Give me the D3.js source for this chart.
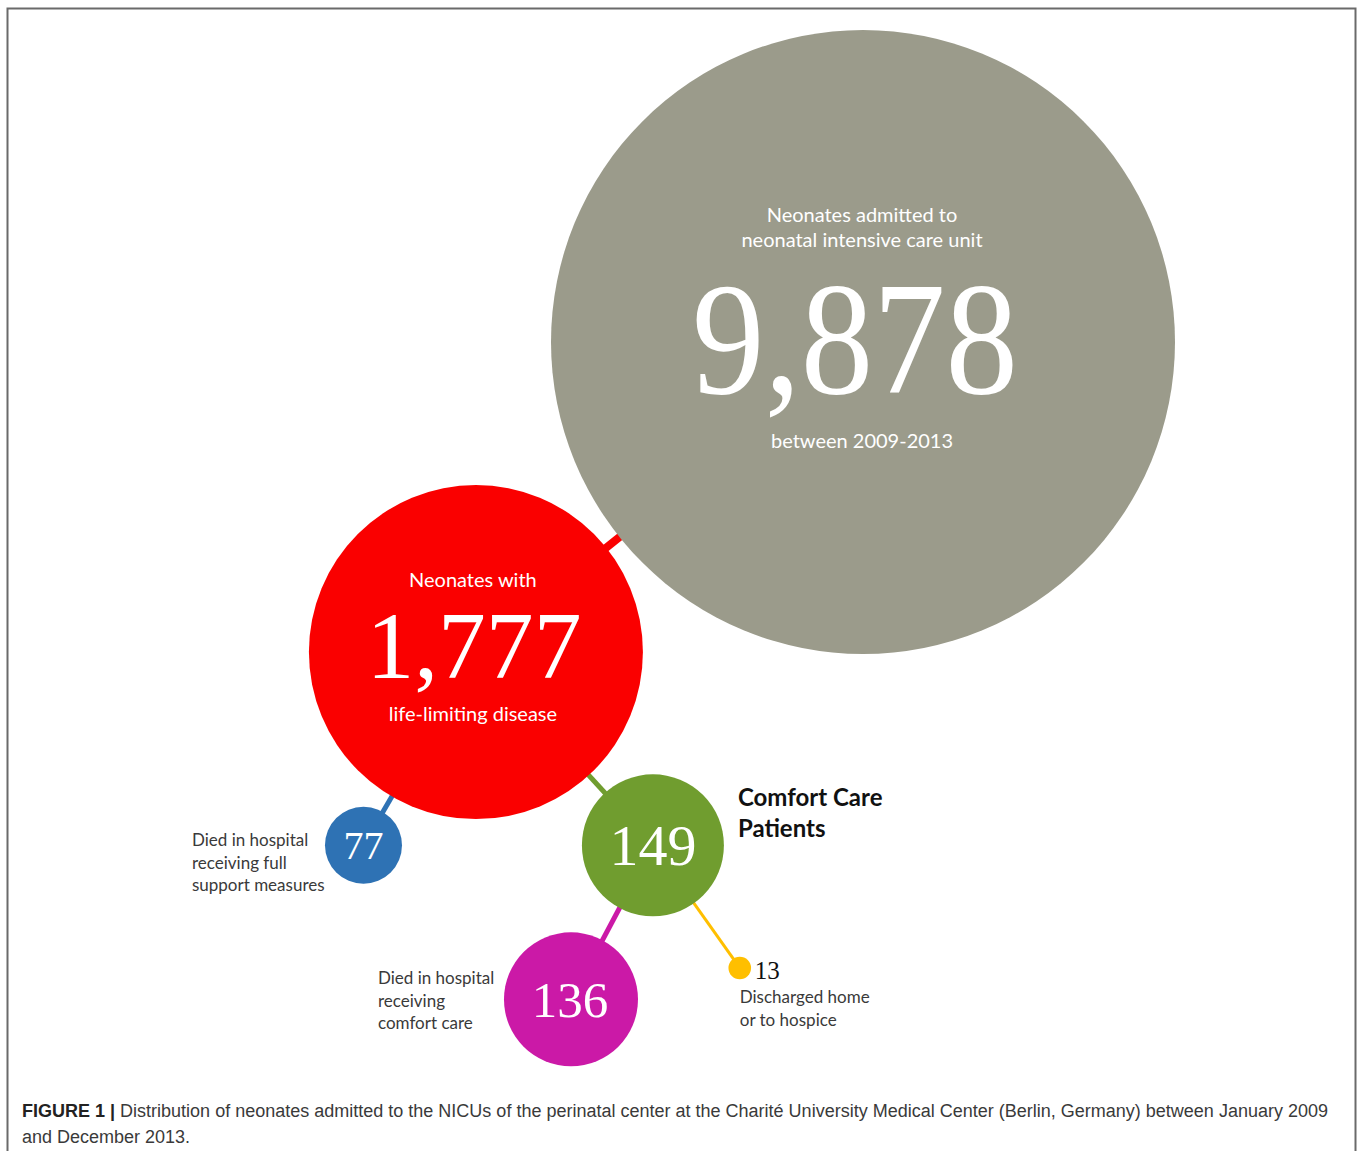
<!DOCTYPE html>
<html>
<head>
<meta charset="utf-8">
<script src="https://cdn.jsdelivr.net/npm/d3@7"></script>
<style>
  html, body { margin: 0; padding: 0; background: #fff; }
  svg { display: block; }
</style>
</head>
<body>
<svg id="chart" width="1358" height="1151"></svg>
<script>
// ---------------- DATA ----------------
const nodeIds     = ["admitted", "lifeLimiting", "fullSupport", "comfortCare", "diedComfort", "discharged"];
const nodeValues  = [9878, 1777, 77, 149, 136, 13];
const nodeParents = [null, "admitted", "lifeLimiting", "lifeLimiting", "comfortCare", "comfortCare"];
const valueLabels = ["9,878", "1,777", "77", "149", "136", "13"];
const innerTopText    = [["Neonates admitted to", "neonatal intensive care unit"], ["Neonates with"], [], [], [], []];
const innerBottomText = [["between 2009-2013"], ["life-limiting disease"], [], [], [], []];
const outerText   = [[], [], ["Died in hospital", "receiving full", "support measures"], [],
                     ["Died in hospital", "receiving", "comfort care"], ["Discharged home", "or to hospice"]];
const groupTitle  = ["Comfort Care", "Patients"];
const captionBold = "FIGURE 1 |";
const captionLine1 = " Distribution of neonates admitted to the NICUs of the perinatal center at the Charité University Medical Center (Berlin, Germany) between January 2009";
const captionLine2 = "and December 2013.";

// ---------------- STYLE / LAYOUT ----------------
const colors = { admitted: "#9b9b8b", lifeLimiting: "#fa0000", fullSupport: "#2e72b4",
                 comfortCare: "#709d2f", diedComfort: "#cb19a7", discharged: "#ffbf00" };
const linkWidth = { lifeLimiting: 8, fullSupport: 5, comfortCare: 5, diedComfort: 5, discharged: 3 };
// radius scale (hand-drawn sizes in the original)
const rScale = d3.scaleLog()
  .domain([13, 77, 136, 149, 1777, 9878])
  .range([11.3, 38.5, 67, 71, 167, 312]);
// placement of each child relative to its parent: angle (deg) and gap between rims
const placement = { lifeLimiting: [141.3, 17], fullSupport: [120.2, 18], comfortCare: [47.5, 24],
                    diedComfort: [118, 36.5], discharged: [54.7, 68] };
const rootPos = [863, 342];

const serif = "'Liberation Serif', 'Times New Roman', serif";
const sans  = "Lato, 'Open Sans', sans-serif";

const svg = d3.select("#chart");

// build nodes
const nodes = nodeIds.map((id, i) => ({ id, i, value: nodeValues[i], parent: nodeParents[i], r: rScale(nodeValues[i]) }));
const byId = Object.fromEntries(nodes.map(n => [n.id, n]));
nodes.forEach(n => {
  if (!n.parent) { n.x = rootPos[0]; n.y = rootPos[1]; return; }
  const p = byId[n.parent];
  const [ang, gap] = placement[n.id];
  const d = p.r + n.r + gap, a = ang * Math.PI / 180;
  n.x = p.x + d * Math.cos(a);
  n.y = p.y + d * Math.sin(a);
});

// frame
svg.append("rect").attr("x", 7.5).attr("y", 8.5).attr("width", 1348).attr("height", 1160)
  .attr("fill", "none").attr("stroke", "#6a6a6a").attr("stroke-width", 2);

// links
svg.append("g").selectAll("line").data(nodes.filter(n => n.parent)).join("line")
  .attr("x1", d => d.x).attr("y1", d => d.y)
  .attr("x2", d => byId[d.parent].x).attr("y2", d => byId[d.parent].y)
  .attr("stroke", d => colors[d.id]).attr("stroke-width", d => linkWidth[d.id]);

// circles
svg.append("g").selectAll("circle").data(nodes).join("circle")
  .attr("cx", d => d.x).attr("cy", d => d.y).attr("r", d => d.r)
  .attr("fill", d => colors[d.id]);

// value labels
const valueStyle = {
  admitted:     { dx: -8,  dy: 51,  size: 160, len: 326, fill: "#fff" },
  lifeLimiting: { dx: -2,  dy: 26,  size: 95,  len: 215, fill: "#fff" },
  fullSupport:  { dx: 0,   dy: 14,  size: 40,  fill: "#fff" },
  comfortCare:  { dx: 0,   dy: 20,  size: 58,  fill: "#fff" },
  diedComfort:  { dx: -1,  dy: 18,  size: 51,  fill: "#fff" },
  discharged:   { dx: 15,  dy: 11,  size: 25,  fill: "#111", anchor: "start" }
};
nodes.forEach(n => {
  const s = valueStyle[n.id];
  const t = svg.append("text")
    .attr("x", n.x + s.dx).attr("y", n.y + s.dy)
    .attr("text-anchor", s.anchor || "middle")
    .attr("font-family", serif).attr("font-size", s.size).attr("fill", s.fill)
    .text(valueLabels[n.i]);
  if (s.len) t.attr("textLength", s.len).attr("lengthAdjust", "spacingAndGlyphs");
});

// inner texts
const innerStyle = {
  admitted:     { dx: -1, top: -120, bottom: 106, lh: 25, size: 20 },
  lifeLimiting: { dx: -3, top: -65, bottom: 68.5, lh: 25, size: 20 }
};
nodes.forEach(n => {
  const s = innerStyle[n.id];
  if (!s) return;
  innerTopText[n.i].forEach((line, k) => {
    svg.append("text").attr("x", n.x + s.dx).attr("y", n.y + s.top + k * s.lh)
      .attr("text-anchor", "middle").attr("font-family", sans).attr("font-size", s.size)
      .attr("fill", "#fff").text(line);
  });
  innerBottomText[n.i].forEach((line, k) => {
    svg.append("text").attr("x", n.x + s.dx).attr("y", n.y + s.bottom + k * s.lh)
      .attr("text-anchor", "middle").attr("font-family", sans).attr("font-size", s.size)
      .attr("fill", "#fff").text(line);
  });
});

// outer labels
const outerStyle = {
  fullSupport: { dx: -171.5, dy: 1,  lh: 22.5 },
  diedComfort: { dx: -193,   dy: -15, lh: 22.5 },
  discharged:  { dx: 0,      dy: 35, lh: 23 }
};
nodes.forEach(n => {
  const s = outerStyle[n.id];
  if (!s) return;
  outerText[n.i].forEach((line, k) => {
    svg.append("text").attr("x", n.x + s.dx).attr("y", n.y + s.dy + k * s.lh)
      .attr("font-family", sans).attr("font-size", 17).attr("fill", "#3a3a3a").text(line);
  });
});

// group title next to comfort care node
const cc = byId.comfortCare;
groupTitle.forEach((line, k) => {
  svg.append("text").attr("x", cc.x + 85).attr("y", cc.y - 39 + k * 31)
    .attr("font-family", sans).attr("font-weight", "bold").attr("font-size", 24)
    .attr("fill", "#111").text(line);
});

// caption
const cap = svg.append("text").attr("x", 22).attr("y", 1117)
  .attr("font-family", "'Liberation Sans', Arial, sans-serif").attr("font-size", 18).attr("fill", "#3a3a3a")
  .attr("textLength", 1306).attr("lengthAdjust", "spacingAndGlyphs");
cap.append("tspan").attr("font-weight", "bold").attr("fill", "#222").text(captionBold);
cap.append("tspan").text(captionLine1);
svg.append("text").attr("x", 22).attr("y", 1143)
  .attr("font-family", "'Liberation Sans', Arial, sans-serif").attr("font-size", 18).attr("fill", "#3a3a3a")
  .text(captionLine2);
</script>
</body>
</html>
